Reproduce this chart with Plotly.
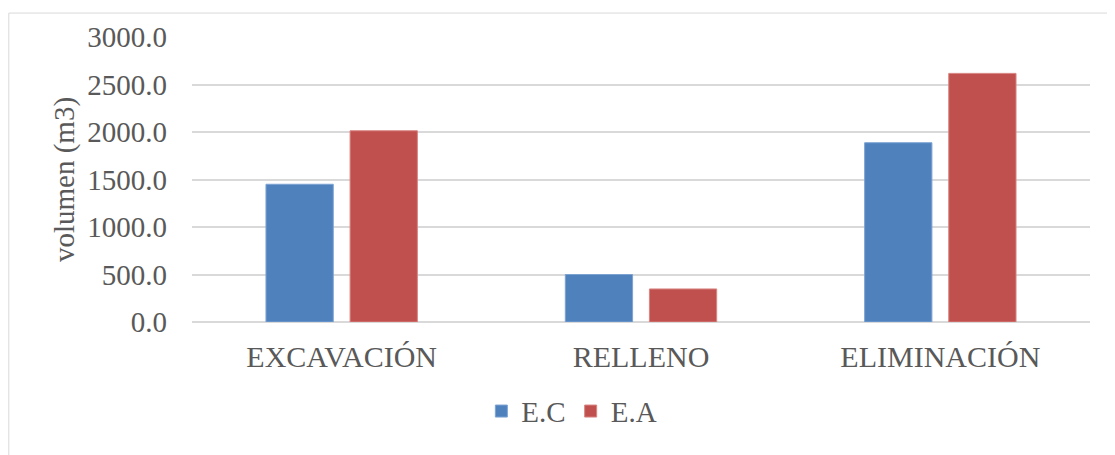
import plotly.graph_objects as go

categories = ["EXCAVACIÓN", "RELLENO", "ELIMINACIÓN"]
ec_values = [1450.0, 500.0, 1887.0]
ea_values = [2013.0, 348.0, 2617.0]
tick_vals = [0, 500, 1000, 1500, 2000, 2500, 3000]
tick_text = ["0.0", "500.0", "1000.0", "1500.0", "2000.0", "2500.0", "3000.0"]

FONT = "Liberation Serif, Times New Roman, serif"
GRAY = "#595959"

fig = go.Figure()
fig.add_trace(go.Bar(x=categories, y=ec_values, name="E.C",
                     marker=dict(color="#4F81BD", line=dict(color="#7da3d3", width=1))))
fig.add_trace(go.Bar(x=categories, y=ea_values, name="E.A",
                     marker=dict(color="#C0504D", line=dict(color="#d98482", width=1))))

fig.update_layout(
    width=1115, height=455,
    margin=dict(l=184, r=33, t=29, b=141),
    paper_bgcolor="white", plot_bgcolor="white",
    barmode="group", bargap=0.438, bargroupgap=0.2,
    font=dict(family=FONT, size=29, color=GRAY),
    showlegend=True,
    legend=dict(orientation="h", x=0.423, xanchor="center", y=-0.313, yanchor="middle",
                font=dict(family=FONT, size=29, color=GRAY), itemwidth=30,
                bgcolor="rgba(0,0,0,0)"),
    xaxis=dict(showgrid=False, showline=False, ticks="", ticklabelstandoff=14,
               tickfont=dict(family=FONT, size=30, color=GRAY)),
    yaxis=dict(range=[0, 3000], tickvals=tick_vals, ticktext=tick_text,
               showgrid=True, gridcolor="#d9d9d9", gridwidth=1.5,
               zeroline=True, zerolinecolor="#d9d9d9", zerolinewidth=1.5,
               showline=False, ticks="", ticklabelstandoff=24,
               tickfont=dict(family=FONT, size=29, color=GRAY),
               title=dict(text="volumen (m3)", standoff=4,
                          font=dict(family=FONT, size=29, color=GRAY))),
    shapes=[dict(type="rect", xref="paper", yref="paper",
                 x0=-0.204, x1=1.08, y0=-0.6, y1=1.084,
                 line=dict(color="#d9d9d9", width=1), layer="below")],
)

fig.write_html("out.html")
